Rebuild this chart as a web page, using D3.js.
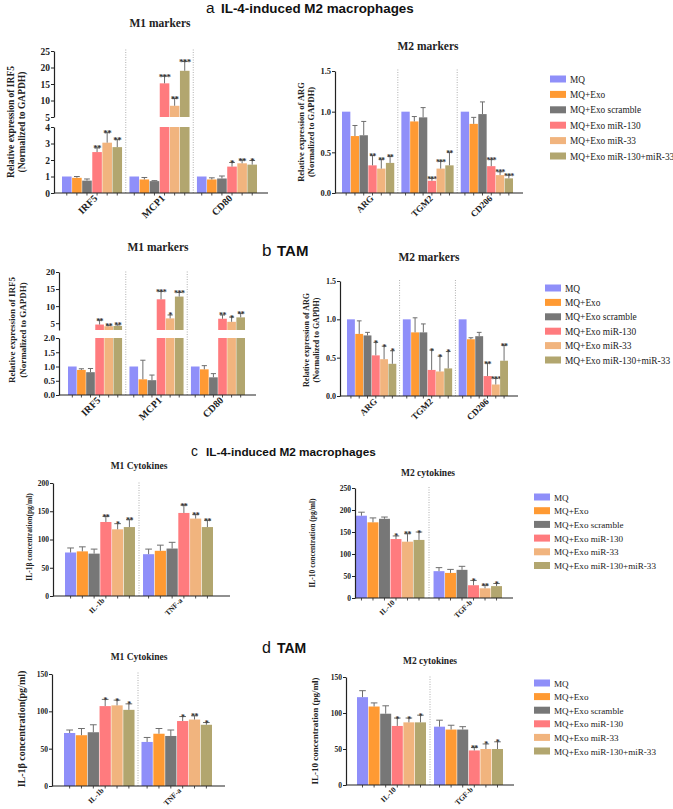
<!DOCTYPE html>
<html>
<head>
<meta charset="utf-8">
<script src="https://cdn.jsdelivr.net/npm/d3@7"></script>
<style>
  body { margin: 0; background: #fff; }
  svg { display: block; }
  .tick text { font-family: "Liberation Serif", serif; font-weight: bold; }
</style>
</head>
<body>
<div class="canvas"></div>
<script>
// series (legend order) and fill colours
const series = ['MQ', 'MQ+Exo', 'MQ+Exo scramble', 'MQ+Exo miR-130', 'MQ+Exo miR-33', 'MQ+Exo miR-130+miR-33'];
const colors = ['#8f8ff9', '#ff9a33', '#777777', '#ff7b7e', '#f1b47e', '#b2a66f'];

// a: IL-4-induced M2 macrophages, M1 markers
const aM1Cats = ['IRF5', 'MCP1', 'CD80'];
const aM1Mean = [[1.0, 0.92, 0.75, 2.48, 3.05, 2.78], [1.0, 0.82, 0.72, 15.2, 8.4, 19.0], [1.0, 0.82, 0.88, 1.6, 1.8, 1.72]];
const aM1Err = [[0, 0.08, 0.1, 0.25, 0.6, 0.45], [0, 0.12, 0.03, 2.2, 2.2, 2.8], [0, 0.1, 0.15, 0.25, 0.2, 0.25]];
const aM1Sig = [['', '', '', '**', '**', '**'], ['', '', '', '***', '**', '***'], ['', '', '', '*', '**', '*']];
const aM1TicksLow = [0, 1, 2, 3, 4];
const aM1TicksHigh = [5, 10, 15, 20, 25];

// a: M2 markers
const aM2Cats = ['ARG', 'TGM2', 'CD206'];
const aM2Mean = [[1.0, 0.70, 0.71, 0.34, 0.30, 0.37], [1.0, 0.88, 0.93, 0.15, 0.30, 0.34], [1.0, 0.85, 0.97, 0.33, 0.22, 0.18]];
const aM2Err = [[0, 0.13, 0.17, 0.12, 0.11, 0.08], [0, 0.06, 0.12, 0.03, 0.09, 0.16], [0, 0.08, 0.15, 0.08, 0.04, 0.04]];
const aM2Sig = [['', '', '', '**', '**', '**'], ['', '', '', '***', '***', '**'], ['', '', '', '***', '***', '***']];
const aM2Ticks = [0, 0.5, 1.0, 1.5];

// b: TAM, M1 markers
const bM1Cats = ['IRF5', 'MCP1', 'CD80'];
const bM1Mean = [[1.0, 0.88, 0.80, 4.6, 4.1, 4.2], [1.0, 0.55, 0.52, 12.0, 6.4, 12.8], [1.0, 0.90, 0.62, 6.3, 5.4, 6.7]];
const bM1Err = [[0, 0.04, 0.13, 1.3, 0.3, 0.3], [0, 0.67, 0.18, 2.3, 1.0, 1.2], [0, 0.13, 0.13, 1.1, 1.4, 1.2]];
const bM1Sig = [['', '', '', '**', '**', '**'], ['', '', '', '***', '*', '***'], ['', '', '', '**', '*', '**']];
const bM1TicksLow = [0, 0.5, 1.0, 1.5, 2.0];
const bM1TicksHigh = [5, 10, 15, 20];

// b: M2 markers
const bM2Cats = ['ARG', 'TGM2', 'CD206'];
const bM2Mean = [[1.0, 0.81, 0.79, 0.53, 0.48, 0.42], [1.0, 0.83, 0.83, 0.34, 0.32, 0.36], [1.0, 0.74, 0.78, 0.26, 0.15, 0.46]];
const bM2Err = [[0, 0.17, 0.04, 0.17, 0.17, 0.17], [0, 0.19, 0.11, 0.26, 0.2, 0.22], [0, 0.02, 0.05, 0.17, 0.08, 0.2]];
const bM2Sig = [['', '', '', '*', '*', '*'], ['', '', '', '*', '*', '*'], ['', '', '', '**', '***', '**']];
const bM2Ticks = [0, 0.5, 1.0, 1.5];

// c: IL-4-induced M2 macrophages, cytokines
const cM1Cats = ['IL-1b', 'TNF-a'];
const cM1Mean = [[77, 79, 75, 131, 118, 122], [74, 80, 84, 147, 137, 122]];
const cM1Err = [[8, 8, 8, 10, 10, 13], [9, 10, 11, 14, 7, 12]];
const cM1Sig = [['', '', '', '**', '*', '**'], ['', '', '', '**', '**', '**']];
const cM1Ticks = [0, 50, 100, 150, 200];

const cM2Cats = ['IL-10', 'TGF-b'];
const cM2Mean = [[187, 172, 180, 134, 128, 132], [61, 57, 64, 29, 22, 27]];
const cM2Err = [[8, 10, 4, 7, 18, 18], [8, 8, 8, 11, 7, 6]];
const cM2Sig = [['', '', '', '*', '**', '*'], ['', '', '', '*', '**', '*']];
const cM2Ticks = [0, 50, 100, 150, 200, 250];

// d: TAM, cytokines
const dM1Cats = ['IL-1b', 'TNF-a'];
const dM1Mean = [[71, 68, 72, 107, 108, 102], [59, 70, 67, 87, 89, 82]];
const dM1Err = [[4, 9, 10, 9, 7, 8], [6, 7, 8, 6, 5, 3]];
const dM1Sig = [['', '', '', '*', '*', '*'], ['', '', '', '*', '**', '*']];
const dM1Ticks = [0, 50, 100, 150];

const dM2Cats = ['IL-10', 'TGF-b'];
const dM2Mean = [[122, 109, 99, 82, 87, 87], [81, 77, 77, 48, 50, 50]];
const dM2Err = [[9, 5, 11, 11, 6, 10], [9, 6, 4, 4, 7, 10]];
const dM2Sig = [['', '', '', '*', '*', '*'], ['', '', '', '**', '*', '*']];
const dM2Ticks = [0, 50, 100, 150];

const serif = '"Liberation Serif", "Times New Roman", serif';
const sans = '"Liberation Sans", Arial, sans-serif';

const svg = d3.select('.canvas')
  .append('svg')
  .attr('width', 673)
  .attr('height', 809);

// draw one bar panel (optionally with a broken y axis)
const drawPanel = (p) => {
  const g = svg.append('g');

  const x = d3.scaleBand().domain(p.cats).range(p.band).paddingInner(p.gap);
  const xs = d3.scaleBand().domain(d3.range(series.length)).range([0, x.bandwidth()]).paddingInner(0.05);
  const segs = p.segs.map(s => ({ ...s, y: d3.scaleLinear().domain(s.domain).range(s.range) }));
  const base = segs[0].range[0];
  const top = segs[segs.length - 1].range[1];

  // dotted separators between groups
  p.cats.slice(1).forEach(c => {
    const sx = x(c) - x.step() * p.gap / 2;
    g.append('line')
      .attr('x1', sx).attr('x2', sx)
      .attr('y1', base).attr('y2', top - 2)
      .attr('stroke', '#9a9a9a')
      .attr('stroke-width', 0.8)
      .attr('stroke-dasharray', '1,1.5');
  });

  // bars
  p.cats.forEach((c, ci) => {
    p.mean[ci].forEach((v, si) => {
      const bx = x(c) + xs(si);
      const bw = xs.bandwidth();
      segs.forEach(s => {
        if (v > s.domain[0]) {
          const vt = Math.min(v, s.domain[1]);
          g.append('rect')
            .attr('x', bx).attr('width', bw)
            .attr('y', s.y(vt))
            .attr('height', s.y(s.domain[0]) - s.y(vt))
            .attr('fill', colors[si]);
        }
      });

      // error bar + stars in the segment holding the value
      const s = segs.find(s => v >= s.domain[0] && v <= s.domain[1]) || segs[segs.length - 1];
      const e = p.err[ci][si];
      const cx = bx + bw / 2;
      let ty = s.y(v);
      if (e > 0) {
        ty = s.y(v + e);
        g.append('line')
          .attr('x1', cx).attr('x2', cx)
          .attr('y1', s.y(v)).attr('y2', ty)
          .attr('stroke', '#6e6e6e').attr('stroke-width', 1);
        g.append('line')
          .attr('x1', cx - bw * 0.3).attr('x2', cx + bw * 0.3)
          .attr('y1', ty).attr('y2', ty)
          .attr('stroke', '#6e6e6e').attr('stroke-width', 1);
      }
      if (p.sig[ci][si]) {
        g.append('text')
          .attr('x', cx).attr('y', ty + 3.5)
          .attr('text-anchor', 'middle')
          .attr('font-family', serif)
          .attr('font-size', p.starSize)
          .attr('font-weight', 'bold')
          .attr('letter-spacing', -0.6)
          .attr('fill', '#333')
          .text(p.sig[ci][si]);
      }

      // small tick under each bar
      g.append('line')
        .attr('x1', cx).attr('x2', cx)
        .attr('y1', base).attr('y2', base + 2.5)
        .attr('stroke', '#222').attr('stroke-width', 0.8);
    });

    // rotated category label
    const gx = x(c) + x.bandwidth() / 2 + p.labelDx;
    g.append('text')
      .attr('transform', `translate(${gx},${base + p.labelDy}) rotate(-45)`)
      .attr('text-anchor', 'end')
      .attr('font-family', serif)
      .attr('font-weight', 'bold')
      .attr('font-size', p.labelSize)
      .attr('fill', '#222')
      .text(c);
  });

  // y axis segments
  segs.forEach(s => {
    const ax = g.append('g')
      .attr('transform', `translate(${p.axisX[0]},0)`)
      .call(d3.axisLeft(s.y).tickValues(s.ticks).tickFormat(s.fmt).tickSize(3).tickSizeOuter(0));
    ax.select('.domain').attr('stroke', '#222').attr('stroke-width', 1.2);
    ax.selectAll('.tick line').attr('stroke', '#222');
    ax.selectAll('.tick text').attr('font-size', p.tickSize).attr('fill', '#222').attr('x', -4);
  });

  // x axis line
  g.append('line')
    .attr('x1', p.axisX[0]).attr('x2', p.axisX[1])
    .attr('y1', base).attr('y2', base)
    .attr('stroke', '#222').attr('stroke-width', 1.2);

  // panel subtitle
  g.append('text')
    .attr('x', p.title[0]).attr('y', p.title[1])
    .attr('text-anchor', 'middle')
    .attr('font-family', serif)
    .attr('font-weight', 'bold')
    .attr('font-size', p.title[2])
    .attr('fill', '#222')
    .text(p.title[3]);

  // y label (one or two lines)
  p.ylab.lines.forEach((t, i) => {
    g.append('text')
      .attr('transform', `translate(${p.ylab.x[i]},${p.ylab.y}) rotate(-90)`)
      .attr('text-anchor', 'middle')
      .attr('font-family', serif)
      .attr('font-weight', 'bold')
      .attr('font-size', p.ylab.size)
      .attr('fill', '#222')
      .text(t);
  });
};

// legend block
const drawLegend = (lx, ly, step, size) => {
  const lg = svg.append('g').attr('transform', `translate(${lx},${ly})`);
  series.forEach((s, i) => {
    lg.append('rect')
      .attr('x', 0).attr('y', i * step - 3.5)
      .attr('width', 16).attr('height', 7)
      .attr('fill', colors[i]);
    lg.append('text')
      .attr('x', 20).attr('y', i * step + 3.5)
      .attr('font-family', serif)
      .attr('font-size', size)
      .attr('fill', '#222')
      .text(s);
  });
};

// section headings
const heading = (x, y, letter, text, size) => {
  svg.append('text')
    .attr('x', x).attr('y', y)
    .attr('font-family', sans)
    .attr('font-size', size + 2)
    .attr('fill', '#111')
    .text(letter);
  svg.append('text')
    .attr('x', x + 15).attr('y', y)
    .attr('font-family', sans)
    .attr('font-weight', 'bold')
    .attr('font-size', size)
    .attr('fill', '#111')
    .text(text);
};

const intFmt = d3.format('d');
const decFmt = d3.format('.1f');

heading(206, 13, 'a', 'IL-4-induced M2 macrophages', 13.4);
heading(262, 256, 'b', 'TAM', 15);
heading(191, 456, 'c', 'IL-4-induced M2 macrophages', 11.8);
heading(262, 653, 'd', 'TAM', 14);

// a
drawPanel({
  cats: aM1Cats, mean: aM1Mean, err: aM1Err, sig: aM1Sig,
  band: [62, 257], gap: 0.11, axisX: [54, 268],
  segs: [
    { domain: [0, 4], range: [193, 127], ticks: aM1TicksLow, fmt: intFmt },
    { domain: [5, 25], range: [117, 51], ticks: aM1TicksHigh, fmt: intFmt }
  ],
  title: [160, 27, 11.5, 'M1 markers'],
  ylab: { lines: ['Relative expression of IRF5', '(Normalized to GAPDH)'], x: [14, 25], y: 122, size: 9.5 },
  labelDx: 6, labelDy: 6, labelSize: 10, tickSize: 9.5, starSize: 9
});
drawPanel({
  cats: aM2Cats, mean: aM2Mean, err: aM2Err, sig: aM2Sig,
  band: [342, 513], gap: 0.12, axisX: [335, 523],
  segs: [{ domain: [0, 1.5], range: [193, 71], ticks: aM2Ticks, fmt: decFmt }],
  title: [428, 50, 11.5, 'M2 markers'],
  ylab: { lines: ['Relative expression of ARG', '(Normalized to GAPDH)'], x: [304, 314], y: 132, size: 8.5 },
  labelDx: 6, labelDy: 6, labelSize: 9, tickSize: 8.5, starSize: 7.5
});
drawLegend(550, 79, 15.4, 9.3);

// b
drawPanel({
  cats: bM1Cats, mean: bM1Mean, err: bM1Err, sig: bM1Sig,
  band: [68, 245], gap: 0.12, axisX: [59, 256],
  segs: [
    { domain: [0, 2], range: [395, 338], ticks: bM1TicksLow, fmt: decFmt },
    { domain: [3, 20], range: [330, 272], ticks: bM1TicksHigh, fmt: intFmt }
  ],
  title: [158, 251, 11.5, 'M1 markers'],
  ylab: { lines: ['Relative expression of IRF5', '(Normalized to GAPDH)'], x: [15, 26], y: 330, size: 9 },
  labelDx: 6, labelDy: 6, labelSize: 10, tickSize: 9, starSize: 8
});
drawPanel({
  cats: bM2Cats, mean: bM2Mean, err: bM2Err, sig: bM2Sig,
  band: [347, 508], gap: 0.117, axisX: [340, 518],
  segs: [{ domain: [0, 1.5], range: [396, 281], ticks: bM2Ticks, fmt: decFmt }],
  title: [429, 261, 11.5, 'M2 markers'],
  ylab: { lines: ['Relative expression of ARG', '(Normalized to GAPDH)'], x: [309, 319], y: 340, size: 8 },
  labelDx: 6, labelDy: 6, labelSize: 9, tickSize: 8, starSize: 8
});
drawLegend(545, 288, 14.4, 9.4);

// c
drawPanel({
  cats: cM1Cats, mean: cM1Mean, err: cM1Err, sig: cM1Sig,
  band: [65, 213], gap: 0.103, axisX: [53, 230],
  segs: [{ domain: [0, 200], range: [596, 483], ticks: cM1Ticks, fmt: intFmt }],
  title: [139, 469, 9.5, 'M1 Cytokines'],
  ylab: { lines: ['IL-1β concentration(pg/ml)'], x: [32], y: 537, size: 7.5 },
  labelDx: 5, labelDy: 5, labelSize: 7.5, tickSize: 7.5, starSize: 8
});
drawPanel({
  cats: cM2Cats, mean: cM2Mean, err: cM2Err, sig: cM2Sig,
  band: [356, 502], gap: 0.117, axisX: [355, 513],
  segs: [{ domain: [0, 250], range: [598, 488], ticks: cM2Ticks, fmt: intFmt }],
  title: [428, 476, 9.5, 'M2 cytokines'],
  ylab: { lines: ['IL-10 concentration (pg/ml)'], x: [315], y: 543, size: 7.5 },
  labelDx: 5, labelDy: 5, labelSize: 7.5, tickSize: 7.5, starSize: 8
});
drawLegend(534, 497, 13.7, 9.1);

// d
drawPanel({
  cats: dM1Cats, mean: dM1Mean, err: dM1Err, sig: dM1Sig,
  band: [64, 212], gap: 0.09, axisX: [52, 225],
  segs: [{ domain: [0, 150], range: [786, 674], ticks: dM1Ticks, fmt: intFmt }],
  title: [139, 660, 9.5, 'M1 Cytokines'],
  ylab: { lines: ['IL-1β concentration(pg/ml)'], x: [25], y: 729, size: 10 },
  labelDx: 5, labelDy: 5, labelSize: 7.5, tickSize: 7.5, starSize: 8
});
drawPanel({
  cats: dM2Cats, mean: dM2Mean, err: dM2Err, sig: dM2Sig,
  band: [357, 503], gap: 0.104, axisX: [346, 514],
  segs: [{ domain: [0, 150], range: [785, 677], ticks: dM2Ticks, fmt: intFmt }],
  title: [430, 664, 9.5, 'M2 cytokines'],
  ylab: { lines: ['IL-10 concentration (pg/ml)'], x: [318], y: 731, size: 9 },
  labelDx: 5, labelDy: 5, labelSize: 7.5, tickSize: 7.5, starSize: 8
});
drawLegend(534, 683, 13.6, 9.1);
</script>
</body>
</html>
